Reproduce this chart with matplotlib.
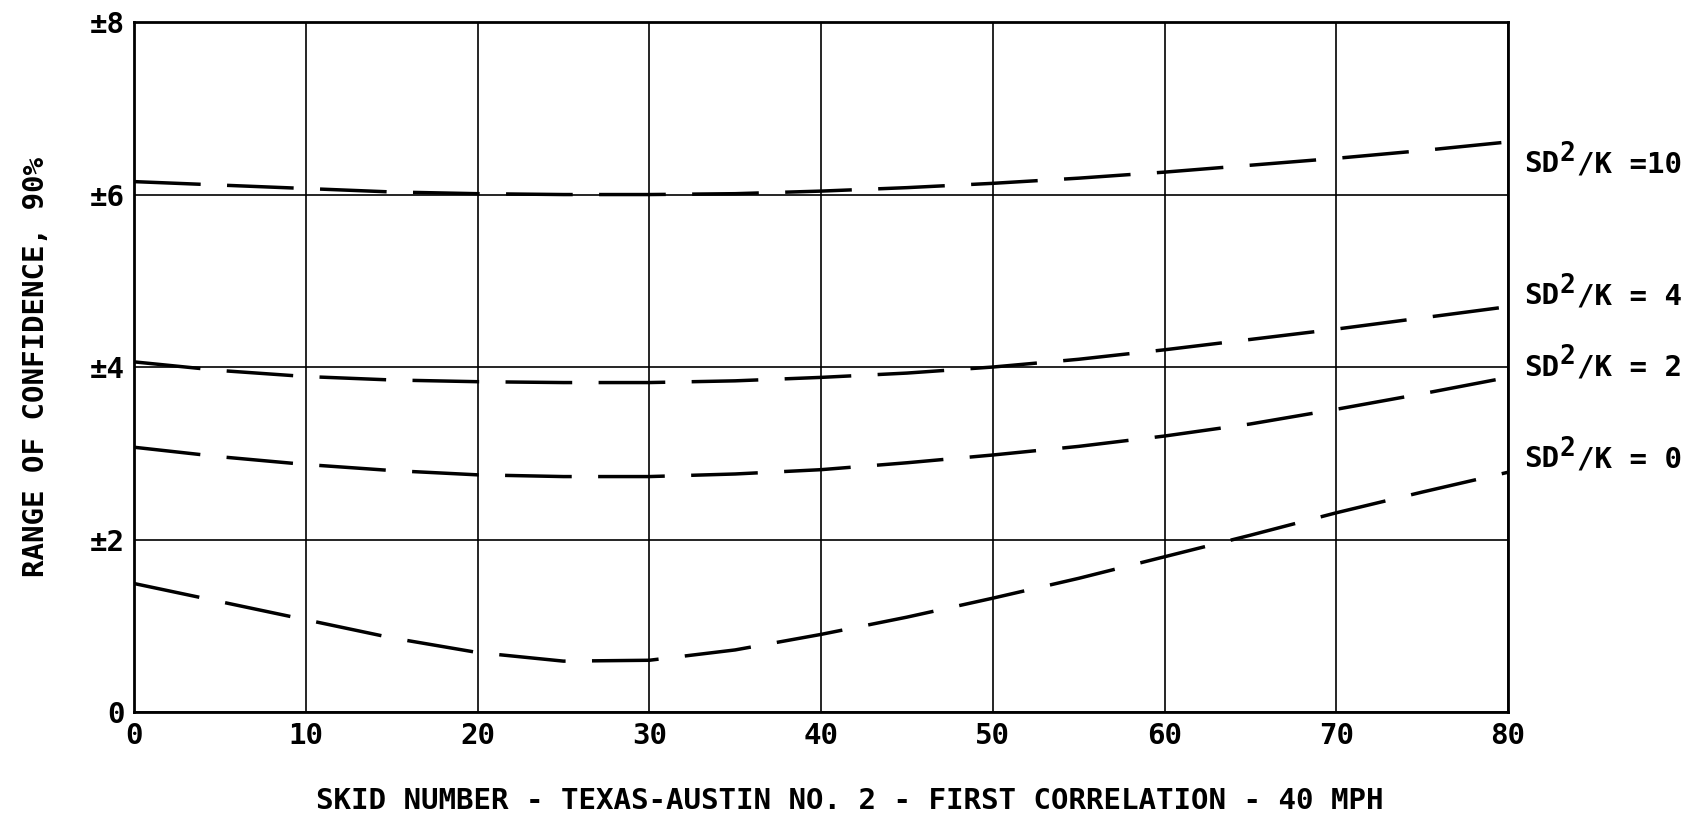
import matplotlib
matplotlib.use("Agg")
import matplotlib.pyplot as plt
from matplotlib.transforms import offset_copy

# Skid number (x) and 90% confidence range for each SD^2/K level
skid = [0, 5, 10, 15, 20, 25, 30, 35, 40, 45, 50, 55, 60, 65, 70, 75, 80]
range_sd0 = [1.49, 1.28, 1.07, 0.86, 0.69, 0.59, 0.60, 0.72, 0.90, 1.10, 1.32,
             1.55, 1.80, 2.05, 2.31, 2.55, 2.78]
range_sd2 = [3.07, 2.96, 2.87, 2.80, 2.75, 2.73, 2.73, 2.76, 2.81, 2.89, 2.98,
             3.08, 3.20, 3.34, 3.51, 3.69, 3.88]
range_sd4 = [4.06, 3.96, 3.89, 3.85, 3.83, 3.82, 3.82, 3.84, 3.88, 3.93, 4.00,
             4.09, 4.20, 4.32, 4.44, 4.57, 4.70]
range_sd10 = [6.15, 6.11, 6.07, 6.03, 6.01, 6.00, 6.00, 6.01, 6.04, 6.08, 6.13,
              6.19, 6.26, 6.34, 6.42, 6.51, 6.61]

# Curve labels: text before the superscript, superscript, text after it
label_head = ["SD", "SD", "SD", "SD"]
label_sup = ["2", "2", "2", "2"]
label_tail = ["/K =10", "/K = 4", "/K = 2", "/K = 0"]
label_y = [6.35, 4.82, 3.99, 2.93]

x_ticks = [0, 10, 20, 30, 40, 50, 60, 70, 80]
x_ticklabels = ["0", "10", "20", "30", "40", "50", "60", "70", "80"]
y_ticks = [0, 2, 4, 6, 8]
y_ticklabels = ["0", "±2", "±4", "±6", "±8"]

FONT = "DejaVu Sans Mono"
WEIGHT = "bold"
plt.rcParams["font.family"] = FONT
plt.rcParams["font.weight"] = WEIGHT
plt.rcParams["axes.labelweight"] = WEIGHT
plt.rcParams["lines.scale_dashes"] = False

fig = plt.figure(figsize=(16.99, 8.17), dpi=100)
ax = fig.add_axes([0.0789, 0.1285, 0.8087, 0.8445])

ax.set_xlim(0, 80)
ax.set_ylim(0, 8)
ax.set_xticks(x_ticks)
ax.set_xticklabels(x_ticklabels)
ax.set_yticks(y_ticks)
ax.set_yticklabels(y_ticklabels)
ax.tick_params(length=0, labelsize=21, pad=7)

ax.grid(True, color="black", linewidth=1.2)
for s in ax.spines.values():
    s.set_linewidth(2.0)

for ys in [range_sd10, range_sd4, range_sd2, range_sd0]:
    ax.plot(skid, ys, color="black", linewidth=2.5, dashes=(48, 19),
            solid_capstyle="butt", dash_capstyle="butt")

# Right-hand curve labels with a full-height raised superscript
fs = 21
adv = 0.602 * fs  # monospace advance, points
for head, sup, tail, yv in zip(label_head, label_sup, label_tail, label_y):
    base = ax.transAxes
    ax.text(1.012, yv / 8, head, transform=base, fontsize=fs,
            ha="left", va="center")
    t_sup = offset_copy(base, fig=fig, x=len(head) * adv, y=0.36 * fs, units="points")
    ax.text(1.012, yv / 8, sup, transform=t_sup, fontsize=fs * 0.9,
            ha="left", va="center")
    t_tail = offset_copy(base, fig=fig, x=(len(head) + 1) * adv, y=0, units="points")
    ax.text(1.012, yv / 8, tail, transform=t_tail, fontsize=fs,
            ha="left", va="center")

ax.set_ylabel("RANGE OF CONFIDENCE, 90%", fontsize=21, labelpad=28)
fig.text(0.5, 0.003, "SKID NUMBER - TEXAS-AUSTIN NO. 2 - FIRST CORRELATION - 40 MPH",
         fontsize=21, ha="center", va="bottom")

fig.savefig("out.png", dpi=100, facecolor="white")
